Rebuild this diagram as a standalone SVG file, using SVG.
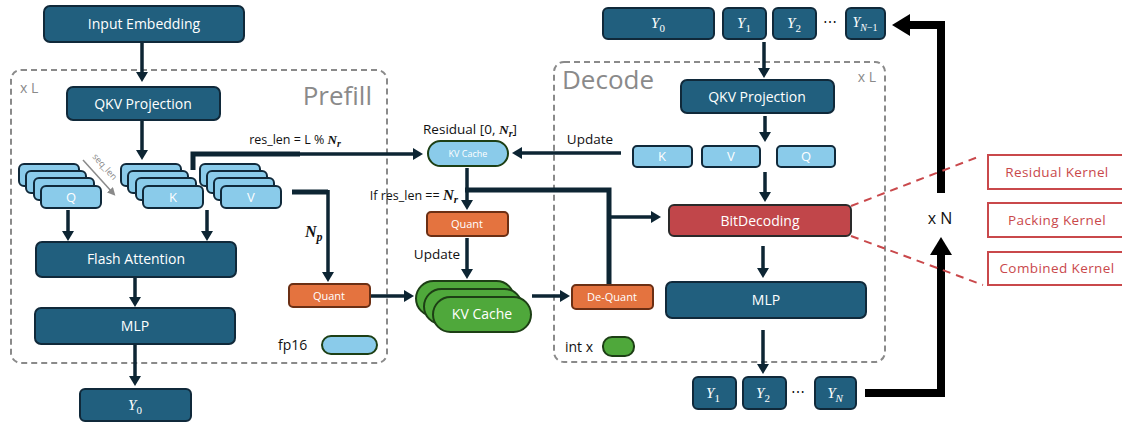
<svg xmlns="http://www.w3.org/2000/svg" width="1122" height="423" viewBox="0 0 1122 423">
  <defs>
    <style>
      .blk { fill: #215F7E; stroke: #10293a; stroke-width: 2; }
      .lb { fill: #8ACBEA; stroke: #10293a; stroke-width: 2; }
      .org { fill: #E4733F; stroke: #6b2f14; stroke-width: 2; }
      .grn { fill: #4FA83B; stroke: #1d3f15; stroke-width: 2; }
      .red { fill: #C1464A; stroke: #2a2a2a; stroke-width: 2; }
      .kbox { fill: #fff; stroke: #C9484B; stroke-width: 2; }
      .grp { fill: none; stroke: #8a8a8a; stroke-width: 2; stroke-dasharray: 6 4; }
      .t { font-family: "Open Sans", "Liberation Sans", sans-serif; fill: #fff; text-anchor: middle; }
      .dk { font-family: "Open Sans", "Liberation Sans", sans-serif; fill: #111; }
      .gt { font-family: "Open Sans", "Liberation Sans", sans-serif; fill: #8a8a8a; }
      .kt { font-family: "Open Sans", "Liberation Sans", sans-serif; fill: #C9484B; font-size: 13.5px; letter-spacing: 0.4px; text-anchor: middle; }
      .m { font-family: "Liberation Serif", serif; font-style: italic; }
      .sub { font-style: normal; }
      .mb { font-family: "Liberation Serif", serif; font-style: italic; font-weight: bold; }
      .ar { fill: none; stroke: #0d2533; stroke-width: 3.5; marker-end: url(#ah); }
      .br { fill: none; stroke: #0d2533; stroke-width: 5; }
      .big { fill: none; stroke: #000; stroke-width: 8; marker-end: url(#bh); }
      .dash { stroke: #C9484B; stroke-width: 2; stroke-dasharray: 8 6; fill: none; }
    </style>
    <marker id="ah" viewBox="0 0 10 12" refX="4" refY="6" markerWidth="10" markerHeight="12" markerUnits="userSpaceOnUse" orient="auto">
      <path d="M0,0 L10,6 L0,12 z" fill="#0d2533"/>
    </marker>
    <marker id="bh" viewBox="0 0 18 22" refX="2" refY="11" markerWidth="18" markerHeight="22" markerUnits="userSpaceOnUse" orient="auto">
      <path d="M0,0 L18,11 L0,22 z" fill="#000"/>
    </marker>
    <marker id="gh" viewBox="0 0 8 8" refX="3" refY="4" markerWidth="8" markerHeight="8" markerUnits="userSpaceOnUse" orient="auto">
      <path d="M0,0 L8,4 L0,8 z" fill="#8a8a8a"/>
    </marker>
  </defs>

  <!-- stage frames -->
  <g id="prefill-frame">
    <rect class="grp" x="11" y="70" width="376" height="293" rx="10"/>
    <text class="gt" x="20" y="93" font-size="14">x L</text>
    <text class="gt" x="372" y="105" font-size="26" text-anchor="end">Prefill</text>
  </g>
  <g id="decode-frame">
    <rect class="grp" x="554" y="62" width="331" height="300" rx="10"/>
    <text class="gt" x="562" y="89" font-size="26">Decode</text>
    <text class="gt" x="876" y="82" font-size="14" text-anchor="end">x L</text>
  </g>

  <!-- connectors -->
  <g id="connectors">
    <path class="ar" d="M142,43 V76"/>
    <path class="ar" d="M142,121 V154"/>
    <path class="ar" d="M68,210 V235"/>
    <path class="ar" d="M207,210 V235"/>
    <path class="ar" d="M135,278 V301"/>
    <path class="ar" d="M135,345 V380"/>
    <!-- residual length split -->
    <path class="br" d="M193,170 V154 H300"/>
    <path class="ar" d="M298,154 H417" stroke-width="4"/>
    <!-- V stream to quantiser -->
    <path class="br" d="M292,192 H328"/>
    <path class="ar" d="M328,190 V276"/>
    <path class="ar" d="M371,296 H408"/>
    <path class="ar" d="M532,296 H564"/>
    <!-- decode K update -->
    <path class="ar" d="M621,153 H518" stroke-width="4"/>
    <path class="ar" d="M467,168 V204"/>
    <path class="ar" d="M467,238 V273"/>
    <!-- dequantised cache feed -->
    <path class="br" d="M609,284 V190 H465"/>
    <path class="ar" d="M609,217 H655"/>
    <path class="ar" d="M764,42 V72"/>
    <path class="ar" d="M765,116 V136"/>
    <path class="ar" d="M765,172 V196"/>
    <path class="ar" d="M763,246 V272"/>
    <path class="ar" d="M763,330 V368"/>
    <!-- token loop -->
    <path class="big" d="M865,393 H941 V253"/>
    <path class="big" d="M941,193 V25 H908"/>
    <!-- kernel callouts -->
    <path class="dash" d="M851,206 L978,157"/>
    <path class="dash" d="M851,236 L983,285"/>
    <!-- sequence direction -->
    <path d="M83,160 L112,192" stroke="#8a8a8a" stroke-width="1.5" fill="none" marker-end="url(#gh)"/>
  </g>

  <!-- labels on connectors -->
  <g id="edge-labels">
    <text class="gt" font-size="9" transform="translate(92,157) rotate(48)">seq_len</text>
    <text class="dk" x="295" y="144" font-size="12.5" text-anchor="middle">res_len = L % <tspan class="mb" font-size="13">N</tspan><tspan class="mb" font-size="10" dy="3">r</tspan></text>
    <text class="mb" x="305" y="237" font-size="16" fill="#111">N<tspan font-size="12" dy="4">p</tspan></text>
    <text class="dk" x="470" y="134" font-size="13.5" text-anchor="middle">Residual [0, <tspan class="mb">N</tspan><tspan class="mb" font-size="10" dy="3">r</tspan><tspan dy="-3">]</tspan></text>
    <text class="dk" x="590" y="144" font-size="13.5" text-anchor="middle">Update</text>
    <text class="dk" x="458" y="200" font-size="12.5" text-anchor="end">If res_len == <tspan class="mb" font-size="15">N</tspan><tspan class="mb" font-size="11" dy="3">r</tspan></text>
    <text class="dk" x="437" y="259" font-size="13.5" text-anchor="middle">Update</text>
    <text class="dk" x="940" y="224" font-size="16" text-anchor="middle">x N</text>
  </g>

  <!-- prefill nodes -->
  <g id="input-embedding">
    <rect class="blk" x="44" y="6" width="200" height="36" rx="6"/>
    <text class="t" x="144" y="29" font-size="14">Input Embedding</text>
  </g>
  <g id="qkv-prefill">
    <rect class="blk" x="67" y="87" width="153" height="33" rx="6"/>
    <text class="t" x="143" y="109" font-size="14">QKV Projection</text>
  </g>
  <g id="q-stack">
    <rect class="lb" x="19" y="164" width="60" height="22" rx="5"/>
    <rect class="lb" x="26" y="171" width="60" height="22" rx="5"/>
    <rect class="lb" x="34" y="178" width="60" height="22" rx="5"/>
    <rect class="lb" x="41" y="186" width="60" height="22" rx="5"/>
    <text class="t" x="71" y="202" font-size="13">Q</text>
  </g>
  <g id="k-stack">
    <rect class="lb" x="121" y="164" width="60" height="22" rx="5"/>
    <rect class="lb" x="128" y="171" width="60" height="22" rx="5"/>
    <rect class="lb" x="136" y="178" width="60" height="22" rx="5"/>
    <rect class="lb" x="143" y="186" width="60" height="22" rx="5"/>
    <text class="t" x="173" y="202" font-size="13">K</text>
  </g>
  <g id="v-stack">
    <rect class="lb" x="200" y="164" width="60" height="22" rx="5"/>
    <rect class="lb" x="207" y="171" width="60" height="22" rx="5"/>
    <rect class="lb" x="214" y="178" width="60" height="22" rx="5"/>
    <rect class="lb" x="221" y="186" width="60" height="22" rx="5"/>
    <text class="t" x="251" y="202" font-size="13">V</text>
  </g>
  <g id="flash-attention">
    <rect class="blk" x="36" y="242" width="200" height="35" rx="6"/>
    <text class="t" x="136" y="264" font-size="14">Flash Attention</text>
  </g>
  <g id="mlp-prefill">
    <rect class="blk" x="35" y="308" width="200" height="36" rx="6"/>
    <text class="t" x="135" y="331" font-size="14">MLP</text>
  </g>
  <g id="y0-out">
    <rect class="blk" x="80" y="389" width="111" height="32" rx="5"/>
    <text class="t m" x="135" y="410" font-size="15">Y<tspan class="sub" font-size="11" dy="4">0</tspan></text>
  </g>
  <g id="quant-prefill">
    <rect class="org" x="289" y="284" width="81" height="23" rx="4"/>
    <text class="t" x="329" y="300" font-size="11">Quant</text>
  </g>
  <g id="legend-fp16">
    <text class="dk" x="278" y="350" font-size="14">fp16</text>
    <rect x="322" y="336" width="55" height="18" rx="9" fill="#8ACBEA" stroke="#1d3f15" stroke-width="2"/>
  </g>

  <!-- shared cache nodes -->
  <g id="residual-cache">
    <rect x="428" y="141" width="80" height="25" rx="12.5" fill="#8ACBEA" stroke="#1d3f15" stroke-width="2"/>
    <text class="t" x="468" y="157" font-size="9">KV Cache</text>
  </g>
  <g id="quant-decode">
    <rect class="org" x="427" y="212" width="81" height="24" rx="4"/>
    <text class="t" x="467" y="228" font-size="11">Quant</text>
  </g>
  <g id="kv-cache">
    <rect class="grn" x="416" y="281" width="98" height="35" rx="17.5"/>
    <rect class="grn" x="424" y="289" width="98" height="35" rx="17.5"/>
    <rect class="grn" x="433" y="297" width="98" height="35" rx="17.5"/>
    <text class="t" x="482" y="319" font-size="14">KV Cache</text>
  </g>
  <g id="dequant">
    <rect class="org" x="572" y="285" width="81" height="24" rx="4"/>
    <text class="t" x="612" y="301" font-size="11">De-Quant</text>
  </g>
  <g id="legend-intx">
    <text class="dk" x="565" y="352" font-size="14">int x</text>
    <rect class="grn" x="603" y="337" width="31" height="19" rx="9"/>
  </g>

  <!-- decode nodes -->
  <g id="decode-inputs">
    <rect class="blk" x="603" y="8" width="111" height="31" rx="5"/>
    <text class="t m" x="658" y="28" font-size="15">Y<tspan class="sub" font-size="11" dy="4">0</tspan></text>
    <rect class="blk" x="723" y="8" width="43" height="31" rx="5"/>
    <text class="t m" x="744" y="28" font-size="15">Y<tspan class="sub" font-size="11" dy="4">1</tspan></text>
    <rect class="blk" x="773" y="8" width="43" height="31" rx="5"/>
    <text class="t m" x="794" y="28" font-size="15">Y<tspan class="sub" font-size="11" dy="4">2</tspan></text>
    <text class="dk" x="830" y="27" font-size="14" text-anchor="middle">⋯</text>
    <rect class="blk" x="846" y="8" width="39" height="31" rx="5"/>
    <text class="t m" x="865" y="27" font-size="14">Y<tspan font-size="10" dy="4">N</tspan><tspan class="sub" font-size="10">−1</tspan></text>
  </g>
  <g id="qkv-decode">
    <rect class="blk" x="681" y="80" width="153" height="33" rx="6"/>
    <text class="t" x="757" y="102" font-size="14">QKV Projection</text>
  </g>
  <g id="k-decode">
    <rect class="lb" x="633" y="146" width="59" height="21" rx="4"/>
    <text class="t" x="662" y="161" font-size="13">K</text>
  </g>
  <g id="v-decode">
    <rect class="lb" x="702" y="146" width="58" height="21" rx="4"/>
    <text class="t" x="731" y="161" font-size="13">V</text>
  </g>
  <g id="q-decode">
    <rect class="lb" x="777" y="146" width="58" height="21" rx="4"/>
    <text class="t" x="806" y="161" font-size="13">Q</text>
  </g>
  <g id="bitdecoding">
    <rect class="red" x="669" y="205" width="182" height="31" rx="5"/>
    <text class="t" x="760" y="226" font-size="14">BitDecoding</text>
  </g>
  <g id="mlp-decode">
    <rect class="blk" x="666" y="282" width="200" height="36" rx="6"/>
    <text class="t" x="766" y="305" font-size="14">MLP</text>
  </g>
  <g id="decode-outputs">
    <rect class="blk" x="693" y="377" width="43" height="32" rx="5"/>
    <text class="t m" x="713" y="398" font-size="15">Y<tspan class="sub" font-size="11" dy="4">1</tspan></text>
    <rect class="blk" x="743" y="377" width="43" height="32" rx="5"/>
    <text class="t m" x="763" y="398" font-size="15">Y<tspan class="sub" font-size="11" dy="4">2</tspan></text>
    <text class="dk" x="798" y="397" font-size="14" text-anchor="middle">⋯</text>
    <rect class="blk" x="815" y="377" width="41" height="32" rx="5"/>
    <text class="t m" x="835" y="398" font-size="15">Y<tspan font-size="11" dy="4">N</tspan></text>
  </g>

  <!-- kernel breakdown -->
  <g id="residual-kernel">
    <rect class="kbox" x="988" y="155" width="142" height="34"/>
    <text class="kt" x="1057" y="177">Residual Kernel</text>
  </g>
  <g id="packing-kernel">
    <rect class="kbox" x="988" y="203" width="142" height="34"/>
    <text class="kt" x="1057" y="225">Packing Kernel</text>
  </g>
  <g id="combined-kernel">
    <rect class="kbox" x="988" y="252" width="142" height="33"/>
    <text class="kt" x="1057" y="273">Combined Kernel</text>
  </g>
</svg>
